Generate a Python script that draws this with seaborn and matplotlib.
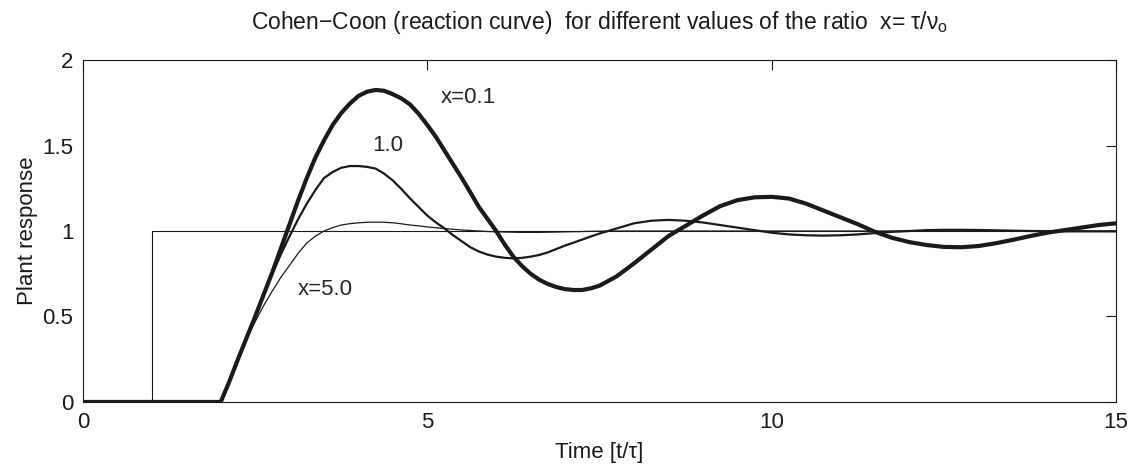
import numpy as np
import pandas as pd
import matplotlib
matplotlib.use("Agg")
import matplotlib.pyplot as plt
import seaborn as sns

# step input (unit step at t = 1)
t_step = [0, 1, 1, 15]
u_step = [0, 0, 1, 1]

# time grid for the plant responses (finer where the curves bend most)
t_resp = [0, 2.0, 2.125, 2.25, 2.375, 2.5, 2.625, 2.75, 2.875, 3.0, 3.125, 3.25,
          3.375, 3.5, 3.625, 3.75, 3.875, 4.0, 4.125, 4.25, 4.375, 4.5, 4.625,
          4.75, 4.875, 5.0, 5.125, 5.25, 5.375, 5.5, 5.625, 5.75, 5.875, 6.0,
          6.125, 6.25, 6.375, 6.5, 6.625, 6.75, 6.875, 7.0, 7.125, 7.25, 7.375,
          7.5, 7.75, 8.0, 8.25, 8.5, 8.75, 9.0, 9.25, 9.5, 9.75, 10.0, 10.25,
          10.5, 10.75, 11.0, 11.25, 11.5, 11.75, 12.0, 12.25, 12.5, 12.75, 13.0,
          13.25, 13.5, 13.75, 14.0, 14.25, 14.5, 14.75, 15.0]

# x = 0.1
y_01 = [0, 0, 0.12, 0.25, 0.375, 0.50, 0.63, 0.76, 0.90, 1.04, 1.18, 1.31,
        1.43, 1.53, 1.62, 1.69, 1.745, 1.79, 1.815, 1.825, 1.82, 1.80, 1.775,
        1.74, 1.685, 1.62, 1.55, 1.47, 1.39, 1.31, 1.225, 1.14, 1.07, 1.00,
        0.92, 0.85, 0.795, 0.75, 0.715, 0.69, 0.672, 0.66, 0.655, 0.655, 0.665,
        0.68, 0.735, 0.81, 0.89, 0.97, 1.03, 1.09, 1.145, 1.18, 1.197, 1.20, 1.19,
        1.16, 1.12, 1.08, 1.04, 0.995, 0.96, 0.935, 0.918, 0.907, 0.905, 0.912,
        0.928, 0.948, 0.97, 0.99, 1.005, 1.02, 1.035, 1.045]

# x = 1.0
y_10 = [0, 0, 0.12, 0.25, 0.375, 0.50, 0.625, 0.75, 0.865, 0.97, 1.07, 1.16,
        1.24, 1.31, 1.345, 1.37, 1.38, 1.38, 1.375, 1.365, 1.335, 1.295, 1.245,
        1.19, 1.14, 1.09, 1.05, 1.015, 0.975, 0.94, 0.905, 0.88, 0.862, 0.85,
        0.843, 0.84, 0.843, 0.85, 0.86, 0.875, 0.895, 0.915, 0.932, 0.95, 0.968,
        0.985, 1.015, 1.045, 1.06, 1.065, 1.06, 1.05, 1.035, 1.02, 1.005, 0.99, 0.98,
        0.975, 0.973, 0.975, 0.98, 0.988, 0.995, 1.0, 1.005, 1.007, 1.007, 1.006,
        1.004, 1.002, 1.0, 0.999, 0.998, 0.998, 0.998, 0.998]

# x = 5.0
y_50 = [0, 0, 0.12, 0.25, 0.37, 0.47, 0.565, 0.65, 0.73, 0.80, 0.87, 0.93,
        0.97, 1.0, 1.02, 1.035, 1.043, 1.048, 1.051, 1.052, 1.051, 1.048, 1.042,
        1.035, 1.03, 1.024, 1.019, 1.014, 1.01, 1.006, 1.003, 1.0, 0.997, 0.995,
        0.994, 0.993, 0.992, 0.992, 0.992, 0.993, 0.994, 0.995, 0.996, 0.997, 0.998,
        0.999, 1.0, 1.0, 1.0, 1.0, 1.0, 1.0, 1.0, 1.0, 1.0, 1.0, 1.0,
        1.0, 1.0, 1.0, 1.0, 1.0, 1.0, 1.0, 1.0, 1.0, 1.0, 1.0,
        1.0, 1.0, 1.0, 1.0, 1.0, 1.0, 1.0, 1.0]

sns.set_theme(style="white")
plt.rcParams['font.family'] = ['Liberation Sans', 'DejaVu Sans']
plt.rcParams['mathtext.fontset'] = 'custom'
plt.rcParams['mathtext.rm'] = 'Liberation Sans'
plt.rcParams['mathtext.it'] = 'Liberation Sans:italic'

fs = 16

fig = plt.figure(figsize=(11.31, 4.69), dpi=100)
ax = fig.add_axes([0.0734, 0.1429, 0.9133, 0.7291])

sns.lineplot(x=t_step, y=u_step, ax=ax, color='k', linewidth=0.8, sort=False, estimator=None)
sns.lineplot(x=t_resp, y=y_50, ax=ax, color='k', linewidth=0.9, sort=False, estimator=None)
sns.lineplot(x=t_resp, y=y_10, ax=ax, color='k', linewidth=1.6, sort=False, estimator=None)
sns.lineplot(x=t_resp, y=y_01, ax=ax, color='k', linewidth=3.0, sort=False, estimator=None)

ax.text(5.2, 1.78, 'x=0.1', fontsize=fs, va='center', ha='left')
ax.text(4.2, 1.50, '1.0', fontsize=fs, va='center', ha='left')
ax.text(3.12, 0.655, 'x=5.0', fontsize=fs, va='center', ha='left')

ax.set_xlim(0, 15)
ax.set_ylim(0, 2)
ax.set_xticks([0, 5, 10, 15])
ax.set_yticks([0, 0.5, 1, 1.5, 2])
ax.set_yticklabels(['0', '0.5', '1', '1.5', '2'])
ax.tick_params(direction='in', length=7, width=0.8, top=True, right=True,
               labelsize=fs, pad=7, color='k', labelcolor='k')
for s in ax.spines.values():
    s.set_color('k')
    s.set_linewidth(0.8)

ax.set_xlabel('Time [t/τ]', fontsize=fs, color='k', labelpad=7)
ax.set_ylabel('Plant response', fontsize=fs, color='k', labelpad=3)
ax.set_title('Cohen\u2212Coon (reaction curve)  for different values of the ratio  x= τ/ν$_{\\rm o}$',
             fontsize=16.5, color='k', pad=22)

fig.savefig('out.png', dpi=100)
